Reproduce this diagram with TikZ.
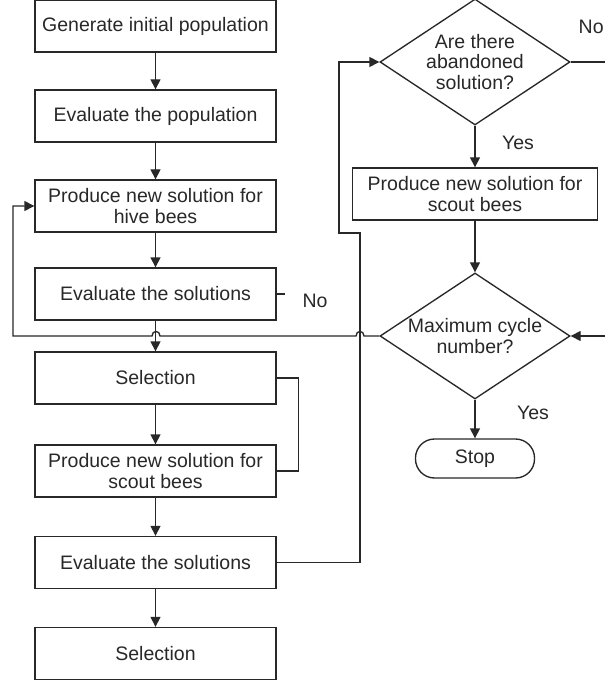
\documentclass[tikz,border=0pt]{standalone}
\usepackage{fontspec}
\setmainfont{Liberation Sans}
\usetikzlibrary{arrows.meta,shapes.geometric}
\definecolor{ink}{RGB}{40,40,40}
\begin{document}
\begin{tikzpicture}[x=1pt,y=-1pt, line width=1.35pt, color=ink,
  font=\fontsize{19.5}{20.5}\selectfont,
  box/.style={draw, rectangle, minimum width=241pt, minimum height=52pt, inner sep=0pt, align=center},
  rbox/.style={box, minimum width=245pt},
  dia/.style={draw, diamond, minimum width=190pt, minimum height=126pt, inner sep=0pt, aspect=1.5},
  lbl/.style={inner sep=0pt, align=center},
  arr/.style={-{Triangle[length=10pt,width=10pt]}},
  ]
\useasboundingbox (0,0) rectangle (605,684);

% left column
\node[box] (b1) at (155.5,26) {Generate initial population};
\node[box] (b2) at (155.5,116) {Evaluate the population};
\node[box] (b3) at (155.5,206) {Produce new solution for\\hive bees};
\node[box] (b4) at (155.5,294) {Evaluate the solutions};
\node[box] (b5) at (155.5,378) {Selection};
\node[box] (b6) at (155.5,471) {Produce new solution for\\scout bees};
\node[box] (b7) at (155.5,562.5) {Evaluate the solutions};
\node[box] (b8) at (155.5,653.5) {Selection};

% right column
\node[dia] (d1) at (475,62) {};
\node[lbl] (d1t) at (d1) {Are there\\abandoned\\solution?};
\node[rbox] (rb) at (475,194) {Produce new solution for\\scout bees};
\node[dia] (d2) at (475,336) {};
\node[lbl] (d2t) at (d2) {Maximum cycle\\number?};
\node[draw, rounded corners=19pt, minimum width=119pt, minimum height=39pt, inner sep=0pt] (stop) at (475,458.5) {Stop};

% labels
\node[lbl, anchor=west] (no1) at (578,27) {No};
\node[lbl] (yes1) at (518,143) {Yes};
\node[lbl] (no2) at (315,301) {No};
\node[lbl] (yes2) at (533,413) {Yes};

\coordinate (rout) at (605,62);
\coordinate (rin) at (605,336);

% main column arrows
\draw[arr] (b1) -- (b2);
\draw[arr] (b2) -- (b3);
\draw[arr] (b3) -- (b4);
\draw[arr] (b4) -- (b5);
\draw[arr] (b5) -- (b6);
\draw[arr] (b6) -- (b7);
\draw[arr] (b7) -- (b8);

% stub on b4
\draw (b4.east) -- ++(8,0);

% selection loop
\draw (b5.east) -- ++(22,0) |- (b6.east);

% evaluate -> abandoned?
\draw[arr] (b7.east) -| (360,233) -- (339,233) |- (d1.west);

% right column
\draw (d1.east) -- (rout);
\draw[arr] (d1.south) -- (rb.north);
\draw[arr] (rb.south) -- (d2.north);
\draw[arr] (rin) -- (d2.east);
\draw[arr] (d2.south) -- (stop.north);

% No loop back to hive bees
\draw[arr] (d2.west) -- (364,336) .. controls (364,330) and (356,330) .. (356,336)
  -- (160,336) .. controls (160,330) and (152,330) .. (152,336)
  -- (13,336) |- (b3.west);
\end{tikzpicture}
\end{document}
